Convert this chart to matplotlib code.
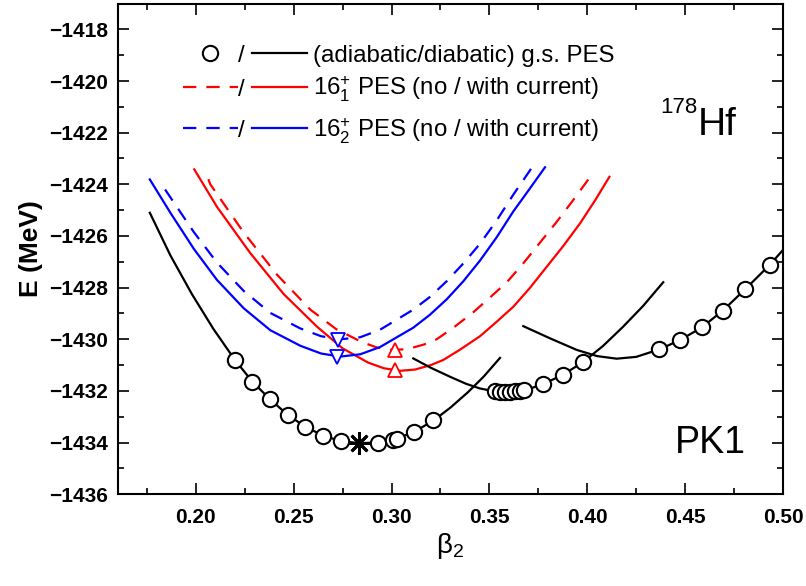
import numpy as np
import matplotlib.pyplot as plt
from matplotlib.ticker import MultipleLocator

plt.rcParams['font.family'] = ['Liberation Sans', 'DejaVu Sans']
plt.rcParams['mathtext.fontset'] = 'custom'
plt.rcParams['mathtext.rm'] = 'Liberation Sans'
plt.rcParams['mathtext.it'] = 'Liberation Sans:italic'
plt.rcParams['mathtext.bf'] = 'Liberation Sans:bold'

# diabatic g.s. PES, three branches (black lines)
gs1_beta = [0.1765, 0.1870, 0.1980, 0.2090, 0.2200, 0.2289, 0.2379, 0.2470, 0.2559, 0.2650,
            0.2742, 0.2834, 0.2929, 0.3009, 0.3116, 0.3213, 0.3300, 0.3390, 0.3470, 0.3554]
gs1_E = [-1425.10, -1426.75, -1428.25, -1429.60, -1430.80, -1431.64, -1432.32, -1432.93, -1433.38, -1433.73,
         -1433.94, -1434.02, -1434.00, -1433.90, -1433.58, -1433.15, -1432.65, -1432.05, -1431.45, -1430.72]

gs2_beta = [0.3111, 0.3200, 0.3299, 0.3380, 0.3450, 0.3530, 0.3600, 0.3680, 0.3775, 0.3874,
            0.3977, 0.4080, 0.4182, 0.4285, 0.4388]
gs2_E = [-1430.74, -1431.10, -1431.45, -1431.72, -1431.90, -1432.02, -1432.05, -1431.98, -1431.73, -1431.38,
         -1430.89, -1430.26, -1429.52, -1428.71, -1427.79]

gs3_beta = [0.3673, 0.3809, 0.3946, 0.4050, 0.4150, 0.4250, 0.4368, 0.4474, 0.4585, 0.4692,
            0.4807, 0.4933, 0.5000]
gs3_E = [-1429.49, -1429.96, -1430.41, -1430.65, -1430.75, -1430.68, -1430.39, -1430.03, -1429.54, -1428.89,
         -1428.06, -1427.11, -1426.54]

# adiabatic g.s. PES (open circles)
adia_beta = [0.2200, 0.2289, 0.2379, 0.2470, 0.2559, 0.2650, 0.2742, 0.2929, 0.3009, 0.3026,
             0.3116, 0.3213, 0.3528, 0.3553, 0.3579, 0.3604, 0.3630, 0.3655, 0.3676, 0.3775,
             0.3874, 0.3977, 0.4368, 0.4474, 0.4585, 0.4692, 0.4807, 0.4933]
adia_E = [-1430.80, -1431.64, -1432.32, -1432.93, -1433.38, -1433.73, -1433.94, -1434.02, -1433.90, -1433.85,
          -1433.58, -1433.13, -1432.02, -1432.03, -1432.04, -1432.04, -1432.02, -1432.00, -1431.98, -1431.73,
          -1431.38, -1430.89, -1430.39, -1430.03, -1429.54, -1428.89, -1428.06, -1427.11]

gs_min_beta = [0.2834]
gs_min_E = [-1434.02]

# 16+_1 PES (red): with current (solid), no current (dashed)
r_cur_beta = [0.1992, 0.2108, 0.2278, 0.2449, 0.2619, 0.2750, 0.2880, 0.2960, 0.3043, 0.3120,
              0.3200, 0.3264, 0.3350, 0.3452, 0.3537, 0.3622, 0.3708, 0.3793, 0.3878, 0.3963,
              0.4040, 0.4113]
r_cur_E = [-1423.42, -1424.87, -1426.66, -1428.25, -1429.51, -1430.35, -1430.90, -1431.12, -1431.22, -1431.17,
           -1431.00, -1430.80, -1430.40, -1429.88, -1429.32, -1428.74, -1428.00, -1427.19, -1426.38, -1425.51,
           -1424.62, -1423.71]
r_no_beta = [0.2064, 0.2074, 0.2244, 0.2415, 0.2585, 0.2716, 0.2846, 0.2926, 0.3009, 0.3086,
             0.3166, 0.3230, 0.3316, 0.3418, 0.3503, 0.3588, 0.3674, 0.3759, 0.3844, 0.3929,
             0.4015]
r_no_E = [-1423.80, -1424.00, -1425.86, -1427.50, -1428.85, -1429.60, -1430.10, -1430.32, -1430.42, -1430.37,
          -1430.20, -1430.00, -1429.55, -1428.95, -1428.38, -1427.80, -1427.05, -1426.25, -1425.45, -1424.60,
          -1423.71]
r_min_beta = [0.3018, 0.3018]
r_min_E = [-1431.19, -1430.41]

# 16+_2 PES (blue)
b_cur_beta = [0.1765, 0.1870, 0.1990, 0.2108, 0.2245, 0.2381, 0.2534, 0.2640, 0.2737, 0.2840,
              0.2941, 0.3009, 0.3111, 0.3196, 0.3282, 0.3367, 0.3452, 0.3537, 0.3622, 0.3703,
              0.3784]
b_cur_E = [-1423.81, -1425.10, -1426.50, -1427.70, -1428.80, -1429.65, -1430.25, -1430.55, -1430.67, -1430.58,
           -1430.30, -1430.00, -1429.55, -1429.05, -1428.45, -1427.75, -1426.95, -1426.05, -1425.05, -1424.20,
           -1423.34]
b_no_beta = [0.1843, 0.1990, 0.2108, 0.2245, 0.2381, 0.2534, 0.2640, 0.2737, 0.2840, 0.2941,
             0.3009, 0.3111, 0.3196, 0.3282, 0.3367, 0.3452, 0.3537, 0.3622, 0.3718]
b_no_E = [-1424.20, -1425.85, -1427.03, -1428.13, -1428.98, -1429.58, -1429.88, -1430.00, -1429.92, -1429.63,
          -1429.32, -1428.85, -1428.36, -1427.75, -1427.06, -1426.30, -1425.40, -1424.40, -1423.34]
b_min_beta = [0.2721, 0.2725]
b_min_E = [-1430.70, -1430.03]

RED = '#ff0000'
BLUE = '#0000ff'
lw = 1.6
dash = (0, (6, 4.5))

fig = plt.figure(figsize=(8.06, 5.86), dpi=100)
ax = fig.add_axes([0.1458, 0.1565, 0.8257, 0.8375])

ax.plot(r_no_beta, r_no_E, color=RED, lw=lw, ls=dash)
ax.plot(r_cur_beta, r_cur_E, color=RED, lw=lw)
ax.plot(b_no_beta, b_no_E, color=BLUE, lw=lw, ls=dash)
ax.plot(b_cur_beta, b_cur_E, color=BLUE, lw=lw)
for xb, ye in [(gs1_beta, gs1_E), (gs2_beta, gs2_E), (gs3_beta, gs3_E)]:
    ax.plot(xb, ye, color='k', lw=lw)
ax.plot(adia_beta, adia_E, ls='none', marker='o', ms=11, mfc='white', mec='k', mew=1.5, zorder=4)
ax.plot(gs_min_beta, gs_min_E, ls='none', marker=(8, 2, 0), ms=16, color='k', mew=2, zorder=5)
ax.plot(r_min_beta, r_min_E, ls='none', marker='^', ms=10, mfc='white', mec=RED, mew=1.3, zorder=5)
ax.plot(b_min_beta, b_min_E, ls='none', marker='v', ms=10, mfc='white', mec=BLUE, mew=1.3, zorder=5)

ax.set_xlim(0.16, 0.50)
ax.set_ylim(-1436, -1417)
ax.xaxis.set_major_locator(MultipleLocator(0.05))
ax.xaxis.set_minor_locator(MultipleLocator(0.025))
ax.yaxis.set_major_locator(MultipleLocator(2))
ax.yaxis.set_minor_locator(MultipleLocator(1))
ax.ticklabel_format(useOffset=False)
ax.set_xticks([0.20, 0.25, 0.30, 0.35, 0.40, 0.45, 0.50])
ax.set_xticklabels(['0.20', '0.25', '0.30', '0.35', '0.40', '0.45', '0.50'])
ax.tick_params(which='both', direction='in', top=True, right=True, width=1.2, labelsize=15)
ax.tick_params(which='major', length=8)
ax.tick_params(which='minor', length=4.5)
ax.tick_params(axis='x', pad=10)
ax.tick_params(axis='y', pad=7)
for lab in ax.get_xticklabels() + ax.get_yticklabels():
    lab.set_fontweight('bold')
for sp in ax.spines.values():
    sp.set_linewidth(1.5)

ax.set_ylabel('E (MeV)', fontsize=19, fontweight='bold')
ax.yaxis.set_label_coords(-0.112, 0.5)
ax.set_xlabel('β$_{2}$', fontsize=20)
ax.xaxis.set_label_coords(0.5, -0.075)

# legend drawn by hand
tr = ax.transAxes
fs = 17.3
ax.plot([0.139], [0.900], transform=tr, marker='o', ms=11, mfc='white', mec='k', mew=1.5, clip_on=False)
ax.plot([0.2017, 0.2843], [0.900, 0.900], transform=tr, color='k', lw=lw, clip_on=False)
ax.plot([0.0989, 0.1815], [0.8305, 0.8305], transform=tr, color=RED, lw=lw, ls=dash, clip_on=False)
ax.plot([0.2017, 0.2843], [0.8305, 0.8305], transform=tr, color=RED, lw=lw, clip_on=False)
ax.plot([0.0989, 0.1815], [0.7457, 0.7457], transform=tr, color=BLUE, lw=lw, ls=dash, clip_on=False)
ax.plot([0.2017, 0.2843], [0.7457, 0.7457], transform=tr, color=BLUE, lw=lw, clip_on=False)
for yb in [0.8814, 0.8121, 0.7274]:
    ax.text(0.1867, yb, '/', transform=tr, fontsize=fs, ha='center', va='baseline')
ax.text(0.2942, 0.8814, '(adiabatic/diabatic) g.s. PES', transform=tr, fontsize=fs, va='baseline')
ax.text(0.2942, 0.8121, r'$16^{+}_{1}$ PES (no / with current)', transform=tr, fontsize=fs, va='baseline')
ax.text(0.2942, 0.7274, r'$16^{+}_{2}$ PES (no / with current)', transform=tr, fontsize=fs, va='baseline')

ax.text(0.8708, 0.7768, '178', transform=tr, fontsize=16, ha='right', va='baseline')
ax.text(0.8723, 0.732, 'Hf', transform=tr, fontsize=28, ha='left', va='baseline')
ax.text(0.8377, 0.0842, 'PK1', transform=tr, fontsize=27, ha='left', va='baseline')

fig.savefig('out.png', dpi=100)
